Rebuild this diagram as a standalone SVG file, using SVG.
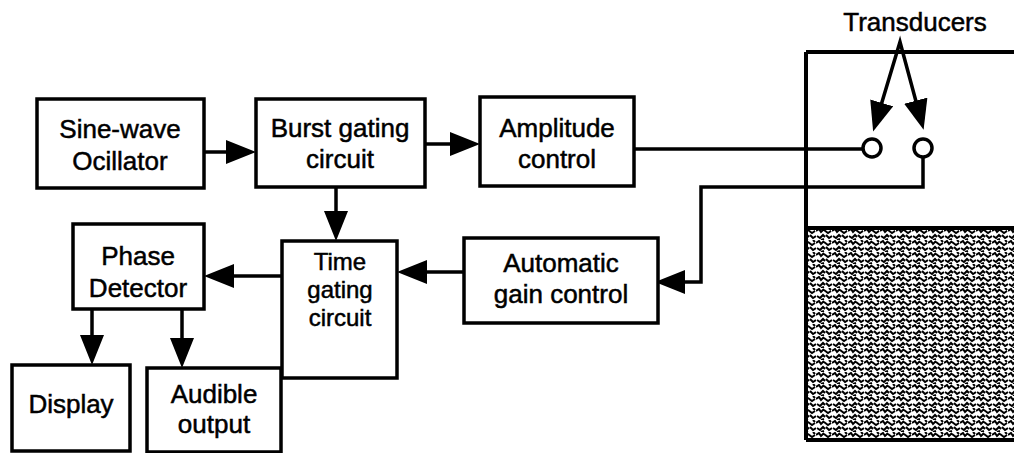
<svg xmlns="http://www.w3.org/2000/svg" width="1014" height="453" viewBox="0 0 1014 453">
<style>
.box{fill:#fff;stroke:#000;stroke-width:3.5}
.lbl{font-family:"Liberation Sans",Arial,sans-serif;font-size:26px;fill:#000;stroke:#000;stroke-width:0.5;text-anchor:middle}
.sm{font-size:24px}
.wire{fill:none;stroke:#000;stroke-width:3.5}
.arr{fill:none;stroke:#000;stroke-width:3.5;marker-end:url(#ah)}
.wall{fill:none;stroke:#000;stroke-width:4}
</style>
<defs>
<marker id="ah" viewBox="0 0 30 24" refX="20" refY="12" markerWidth="30" markerHeight="24" markerUnits="userSpaceOnUse" orient="auto-start-reverse">
<path d="M0,0 L30,12 L0,24 Z" fill="#000"/>
</marker>
<pattern id="stip" width="16" height="12" patternUnits="userSpaceOnUse">
<rect width="16" height="12" fill="#fff"/>
<path d="M0,3 l3,-2 l2,3 l3,-3 M8,2 l4,3 l3,-2 M1,8 l3,2 l3,-3 l2,2 M10,7 l3,3 l3,-2 M5,12 l3,-1 M13,0 l2,2" stroke="#000" stroke-width="2" fill="none"/>
</pattern>
</defs>
<rect width="1014" height="453" fill="#fff"/>

<g id="tank">
<rect x="806" y="228" width="210" height="212" fill="url(#stip)"/>
<path class="wall" d="M806,52 V440 M806,52 H1016 M806,228 H1016 M806,440 H1016"/>
<text class="lbl" x="915" y="31">Transducers</text>
</g>

<g id="connectors">
<path class="arr" d="M204,152 H246"/>
<path class="arr" d="M425,144 H470"/>
<path class="wire" d="M634,149 H863"/>
<path class="arr" d="M923,157 V187 H701 V282 H665"/>
<path class="arr" d="M464,272 H407"/>
<path class="arr" d="M282,276 H214"/>
<path class="arr" d="M336,187 V231"/>
<path class="arr" d="M92,309 V355"/>
<path class="arr" d="M182,309 V358"/>
<path class="arr" style="marker-start:url(#ah)" d="M876,122 L900,42 L921,120"/>
</g>

<g id="transducer1"><circle cx="872" cy="148" r="9" fill="#fff" stroke="#000" stroke-width="3.5"/></g>
<g id="transducer2"><circle cx="923" cy="148" r="9" fill="#fff" stroke="#000" stroke-width="3.5"/></g>

<g id="oscillator">
<rect class="box" x="37" y="99" width="167" height="89"/>
<text class="lbl" x="120" y="138">Sine-wave</text>
<text class="lbl" x="120" y="170">Ocillator</text>
</g>
<g id="burst">
<rect class="box" x="256" y="99" width="169" height="88"/>
<text class="lbl" x="340" y="137">Burst gating</text>
<text class="lbl" x="340" y="168">circuit</text>
</g>
<g id="amplitude">
<rect class="box" x="480" y="97" width="154" height="89"/>
<text class="lbl" x="557" y="137">Amplitude</text>
<text class="lbl" x="557" y="168">control</text>
</g>
<g id="agc">
<rect class="box" x="464" y="238" width="194" height="85"/>
<text class="lbl" x="561" y="272">Automatic</text>
<text class="lbl" x="561" y="303">gain control</text>
</g>
<g id="timegating">
<rect class="box" x="282" y="241" width="115" height="137"/>
<text class="lbl sm" x="340" y="270">Time</text>
<text class="lbl sm" x="340" y="298">gating</text>
<text class="lbl sm" x="340" y="326">circuit</text>
</g>
<g id="phase">
<rect class="box" x="73" y="224" width="131" height="85"/>
<text class="lbl" x="138" y="265">Phase</text>
<text class="lbl" x="138" y="297">Detector</text>
</g>
<g id="display">
<rect class="box" x="12" y="365" width="118" height="86"/>
<text class="lbl" x="71" y="413">Display</text>
</g>
<g id="audible">
<rect class="box" x="147" y="368" width="134" height="84"/>
<text class="lbl" x="214" y="403">Audible</text>
<text class="lbl" x="214" y="433">output</text>
</g>
</svg>
